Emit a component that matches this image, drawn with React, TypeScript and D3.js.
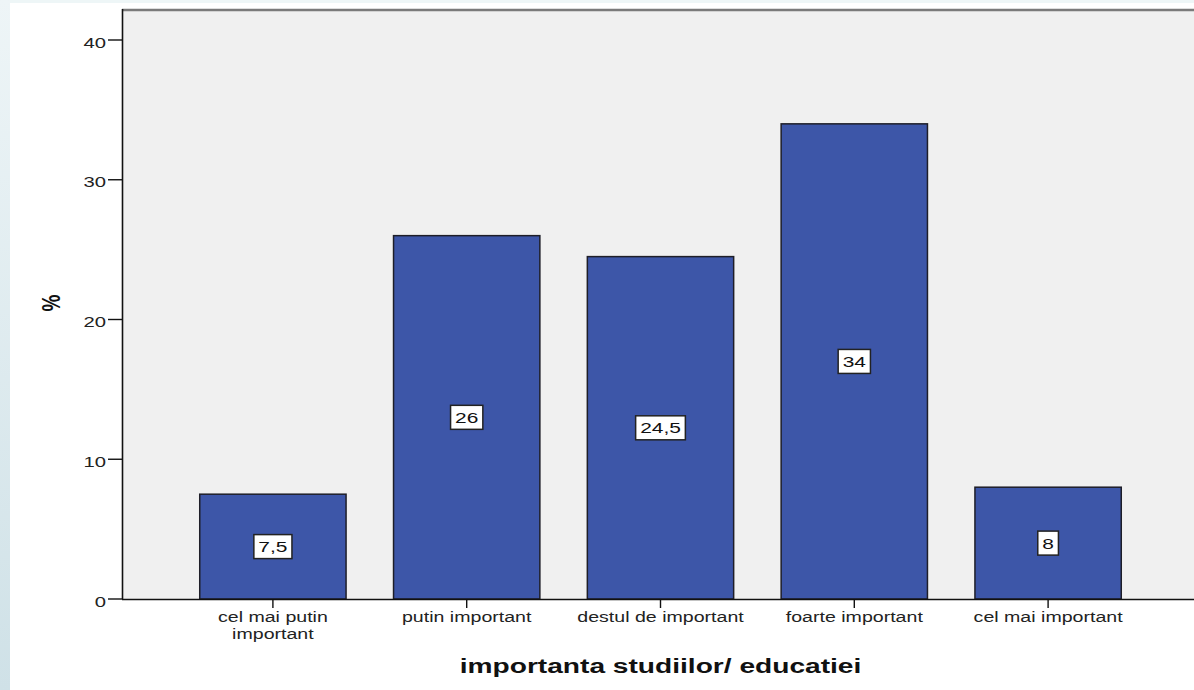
import React, { useEffect, useRef } from "react";
import * as d3 from "d3";

const categories: string[][] = [
  ["cel mai putin", "important"],
  ["putin important"],
  ["destul de important"],
  ["foarte important"],
  ["cel mai important"],
];
const values: number[] = [7.5, 26, 24.5, 34, 8];
const valueLabels: string[] = ["7,5", "26", "24,5", "34", "8"];
const yTicks: number[] = [0, 10, 20, 30, 40];
const xTitle = "importanta studiilor/ educatiei";
const yTitle = "%";

const W = 1194;
const H = 690;
const SX = 1.35;
const FONT = "Arial, 'Liberation Sans', sans-serif";

export default function App() {
  const ref = useRef<SVGSVGElement | null>(null);

  useEffect(() => {
    const svg = d3.select(ref.current);
    svg.selectAll("*").remove();

    const defs = svg.append("defs");
    const grad = defs
      .append("linearGradient")
      .attr("id", "sideGrad")
      .attr("x1", 0)
      .attr("y1", 0)
      .attr("x2", 0)
      .attr("y2", 1);
    grad.append("stop").attr("offset", "0%").attr("stop-color", "#eef5f7");
    grad.append("stop").attr("offset", "100%").attr("stop-color", "#cfe1e7");

    // page background
    svg.append("rect").attr("x", 0).attr("y", 0).attr("width", W).attr("height", H).attr("fill", "#eef6f7");
    svg.append("rect").attr("x", 0).attr("y", 0).attr("width", 10).attr("height", H).attr("fill", "url(#sideGrad)");
    svg.append("rect").attr("x", 10).attr("y", 3).attr("width", W - 10).attr("height", H - 3).attr("fill", "#ffffff");

    const plotLeft = 122;
    const plotTop = 9;
    const plotBottom = 599;

    const y = d3.scaleLinear().domain([0, 40]).range([plotBottom, 40]);
    const x = d3
      .scaleBand<number>()
      .domain(d3.range(categories.length))
      .range([176, 1145])
      .paddingInner(0.245)
      .paddingOuter(0.1225);

    // plot background
    svg
      .append("rect")
      .attr("x", plotLeft)
      .attr("y", plotTop)
      .attr("width", W - plotLeft + 5)
      .attr("height", plotBottom - plotTop)
      .attr("fill", "#f0f0f0");
    // top border
    svg
      .append("line")
      .attr("x1", plotLeft)
      .attr("x2", W)
      .attr("y1", plotTop + 1)
      .attr("y2", plotTop + 1)
      .attr("stroke", "#7a7a7a")
      .attr("stroke-width", 2.5);

    // bars
    const bars = svg.append("g");
    values.forEach((v, i) => {
      bars
        .append("rect")
        .attr("x", x(i)!)
        .attr("y", y(v))
        .attr("width", x.bandwidth())
        .attr("height", y(0) - y(v))
        .attr("fill", "#3d56a8")
        .attr("stroke", "#1e1e28")
        .attr("stroke-width", 1.5);
    });

    // value labels
    values.forEach((v, i) => {
      const cx = x(i)! + x.bandwidth() / 2;
      const cy = (y(v) + y(0)) / 2;
      const g = bars.append("g");
      const rect = g.append("rect");
      const t = g
        .append("text")
        .attr("transform", `translate(${cx},${cy + 5.5}) scale(${SX},1)`)
        .attr("text-anchor", "middle")
        .attr("font-family", FONT)
        .attr("font-size", 15.5)
        .attr("fill", "#111")
        .text(valueLabels[i]);
      const bb = (t.node() as SVGTextElement).getBBox();
      const w = bb.width * SX + 9;
      const h = 24;
      rect
        .attr("x", cx - w / 2)
        .attr("y", cy - h / 2)
        .attr("width", w)
        .attr("height", h)
        .attr("fill", "#ffffff")
        .attr("stroke", "#222")
        .attr("stroke-width", 1.5);
    });

    // y axis
    svg
      .append("line")
      .attr("x1", plotLeft + 0.5)
      .attr("x2", plotLeft + 0.5)
      .attr("y1", plotTop)
      .attr("y2", plotBottom)
      .attr("stroke", "#111")
      .attr("stroke-width", 1.6);
    yTicks.forEach((tk) => {
      svg
        .append("line")
        .attr("x1", 108)
        .attr("x2", plotLeft)
        .attr("y1", y(tk))
        .attr("y2", y(tk))
        .attr("stroke", "#111")
        .attr("stroke-width", 1.4);
      svg
        .append("text")
        .attr("transform", `translate(106,${y(tk) + 7.5}) scale(${SX},1)`)
        .attr("text-anchor", "end")
        .attr("font-family", FONT)
        .attr("font-size", 15)
        .attr("fill", "#222")
        .text(String(tk));
    });

    // x axis
    svg
      .append("line")
      .attr("x1", plotLeft)
      .attr("x2", W)
      .attr("y1", plotBottom + 0.5)
      .attr("y2", plotBottom + 0.5)
      .attr("stroke", "#111")
      .attr("stroke-width", 1.6);
    categories.forEach((lines, i) => {
      const cx = x(i)! + x.bandwidth() / 2;
      svg
        .append("line")
        .attr("x1", cx)
        .attr("x2", cx)
        .attr("y1", plotBottom)
        .attr("y2", plotBottom + 9)
        .attr("stroke", "#111")
        .attr("stroke-width", 1.4);
      lines.forEach((ln, j) => {
        svg
          .append("text")
          .attr("transform", `translate(${cx},${plotBottom + 23 + j * 16.5}) scale(${SX},1)`)
          .attr("text-anchor", "middle")
          .attr("font-family", FONT)
          .attr("font-size", 14.5)
          .attr("fill", "#222")
          .text(ln);
      });
    });

    // titles
    const [r0, r1] = x.range();
    svg
      .append("text")
      .attr("transform", `translate(${(r0 + r1) / 2},673) scale(1.34,1)`)
      .attr("text-anchor", "middle")
      .attr("font-family", FONT)
      .attr("font-weight", "bold")
      .attr("font-size", 21)
      .attr("fill", "#111")
      .text(xTitle);
    svg
      .append("text")
      .attr("transform", `translate(51,303) scale(${SX},1) rotate(-90)`)
      .attr("text-anchor", "middle")
      .attr("dominant-baseline", "central")
      .attr("font-family", FONT)
      .attr("font-weight", "bold")
      .attr("font-size", 19)
      .attr("fill", "#111")
      .text(yTitle);
  }, []);

  return (
    <svg
      ref={ref}
      width={W}
      height={H}
      style={{ position: "absolute", left: 0, top: 0, display: "block" }}
    />
  );
}
